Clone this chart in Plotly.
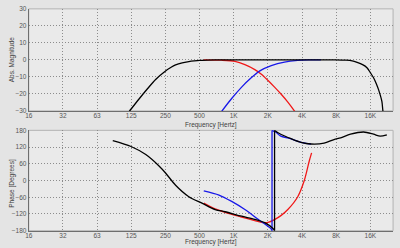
import plotly.graph_objects as go
import math

# ---------------- data ----------------
tick_freqs = [16, 32, 64, 128, 256, 512, 1024, 2048, 4096, 8192, 16384]
tick_labels = ["16", "32", "63", "125", "250", "500", "1K", "2K", "4K", "8K", "16K"]

mag_ticks = [-30, -20, -10, 0, 10, 20, 30]
phase_ticks = [-180, -120, -60, 0, 60, 120, 180]

# Magnitude (dB)
black_mag_f = [88, 100, 124, 150, 178, 210, 257, 290, 315, 360, 412, 460, 512, 600, 700, 1000, 2000,
               4000, 8000, 10000, 11343, 12537, 14000, 15310, 16384, 17500, 18500, 19360,
               20720, 21150, 22500]
black_mag_db = [-43, -38, -30, -23, -17, -11.5, -6.5, -4.2, -2.9, -1.7, -1.0, -0.6, -0.3, -0.12, -0.05, 0, 0,
                0, 0, -0.2, -0.6, -1.5, -2.8, -4.6, -7.5, -10.5, -14, -17.5,
                -24.4, -30, -40]

red_mag_f = [558, 800, 1051, 1285, 1571, 1797, 2057, 2347, 2686, 3073, 3509, 3800]
red_mag_db = [0, -0.2, -0.9, -2.8, -5.7, -8.4, -12.1, -16, -20.2, -24.8, -30, -33.5]

blue_mag_f = [558, 788, 983, 1203, 1470, 1726, 2196, 2870, 3758, 4700, 6000]
blue_mag_db = [-45, -31, -22.7, -16, -10.4, -6.6, -3.4, -1.3, -0.3, 0, 0]

# Phase (degrees)
black_ph_f = [88, 127.5, 172, 225, 258, 315, 412, 538, 703, 860, 1203, 1571, 1920,
              2274, 2347, 2347, 2500, 2686, 3283, 4014, 4909, 6411, 7837, 8963, 10960,
              14320, 17500, 20030, 22910]
black_ph_deg = [143, 122, 93, 52, 26, -17, -58, -81, -104, -112, -128, -139, -151,
                -172, -180, 180, 172, 165, 150, 137, 131, 134, 147, 153, 166,
                174, 166, 159, 164]

blue_ph_f = [558, 760, 983, 1285, 1681, 2196, 2229, 2229, 2400, 2640, 3283, 4014, 4909]
blue_ph_deg = [-37, -52, -75, -104, -139, -174, -180, 180, 174, 160, 149, 137, 131]

red_ph_f = [558, 703, 860, 1203, 1571, 1797, 2057, 2347, 2686, 3073, 3758, 4290, 4746, 4977]
red_ph_deg = [-81, -102, -114, -131, -144, -150, -150, -140, -125, -104, -58, 0, 70, 99]

# ---------------- figure ----------------
W, H = 400, 248
x0, x1 = 25, 393
top_t, top_b = 5, 110
bot_t, bot_b = 130, 233.3

def py(p):
    return 1 - p / H

BLACK = "#000000"
RED = "#F01818"
BLUE = "#1818E8"
LW = 1.3

fig = go.Figure()

def add(xs, ys, color, ax, shape="spline"):
    fig.add_trace(go.Scatter(x=xs, y=ys, mode="lines",
                             line=dict(color=color, width=LW, shape=shape, smoothing=0.8),
                             xaxis="x" if ax == 1 else "x2", yaxis="y" if ax == 1 else "y2",
                             showlegend=False, hoverinfo="skip"))

def add_wrapped(xs, ys, color, ax):
    # split at phase wrap (repeated frequency) and draw the jump as a straight segment
    for i in range(1, len(xs)):
        if xs[i] == xs[i - 1]:
            add(xs[:i], ys[:i], color, ax)
            add(xs[i - 1:i + 1], ys[i - 1:i + 1], color, ax, shape="linear")
            add(xs[i:], ys[i:], color, ax)
            return
    add(xs, ys, color, ax)

add(red_mag_f, red_mag_db, RED, 1)
add(blue_mag_f, blue_mag_db, BLUE, 1)
add(black_mag_f, black_mag_db, BLACK, 1)
add_wrapped(red_ph_f, red_ph_deg, RED, 2)
add_wrapped(blue_ph_f, blue_ph_deg, BLUE, 2)
add_wrapped(black_ph_f, black_ph_deg, BLACK, 2)

font_small = dict(family="Liberation Sans, Arial, sans-serif", size=6.5, color="#555555")
GRID = "#8C8C8C"
AXL = "#6E6E6E"

xr = [math.log10(16), math.log10(26000)]

xcommon = dict(type="log", range=xr, tickvals=tick_freqs, ticktext=tick_labels,
               showgrid=True, gridcolor=GRID, griddash="1px,2px", gridwidth=1,
               showline=True, linecolor=AXL, linewidth=1, ticks="", zeroline=False,
               tickfont=font_small, domain=[x0 / W, x1 / W], fixedrange=True,
               ticklabelstandoff=-2)
ycommon = dict(showgrid=True, gridcolor=GRID, griddash="1px,2px", gridwidth=1,
               showline=True, linecolor=AXL, linewidth=1, ticks="", zeroline=False,
               tickfont=font_small, fixedrange=True)

fig.update_layout(
    width=W, height=H, autosize=False,
    margin=dict(l=0, r=0, t=0, b=0, pad=0),
    paper_bgcolor="#E4E4E4", plot_bgcolor="#EAEAEA",
    xaxis=dict(xcommon, anchor="y"),
    yaxis=dict(ycommon, range=[-30, 30], tickvals=mag_ticks, anchor="x",
               domain=[py(top_b), py(top_t)]),
    xaxis2=dict(xcommon, anchor="y2"),
    yaxis2=dict(ycommon, range=[-180, 180], tickvals=phase_ticks, anchor="x2",
                domain=[py(bot_b), py(bot_t)]),
)

# frame top/right
for (t, b) in [(top_t, top_b), (bot_t, bot_b)]:
    fig.add_shape(type="rect", xref="paper", yref="paper", x0=x0 / W, x1=x1 / W,
                  y0=py(b), y1=py(t), line=dict(color="#B4B4B4", width=1), layer="below")

title_font = dict(family="Liberation Sans, Arial, sans-serif", size=6.5, color="#404040")
fig.add_annotation(text="Abs. Magnitude", xref="paper", yref="paper", x=8 / W, y=py(57),
                   textangle=-90, showarrow=False, font=title_font, xanchor="center", yanchor="middle")
fig.add_annotation(text="Phase [Degrees]", xref="paper", yref="paper", x=8 / W, y=py(184),
                   textangle=-90, showarrow=False, font=title_font, xanchor="center", yanchor="middle")
fig.add_annotation(text="Frequency [Hertz]", xref="paper", yref="paper", x=209 / W, y=py(124.5),
                   showarrow=False, font=title_font, xanchor="center", yanchor="middle")
fig.add_annotation(text="Frequency [Hertz]", xref="paper", yref="paper", x=209 / W, y=py(244.5),
                   showarrow=False, font=title_font, xanchor="center", yanchor="middle")

fig.write_html("out.html")
